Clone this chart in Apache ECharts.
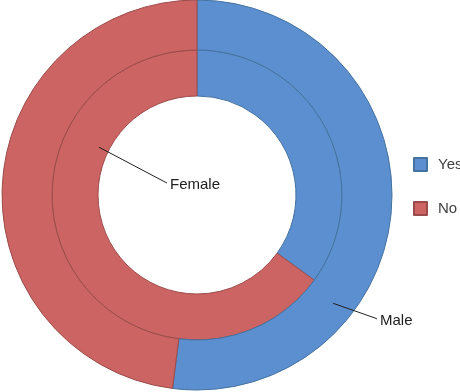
<!DOCTYPE html>
<html><head><meta charset="utf-8">
<script src="https://cdn.jsdelivr.net/npm/echarts@6/dist/echarts.min.js"></script>
<style>html,body{margin:0;padding:0;background:#fff}#c{width:460px;height:392px}</style>
</head><body><div id="c"></div>
<script>
const categories = ['Yes', 'No'];
const femaleValues = [35, 65];
const maleValues = [52, 48];
const seriesNames = ['Female', 'Male'];
const colors = ['#5B8FD0', '#CB6462'];
const borders = ['#45729f', '#9b4c4a'];

const cx = 197, cy = 195;
function pt(angleDeg, r) {
  const a = angleDeg * Math.PI / 180;
  return [cx + r * Math.sin(a), cy - r * Math.cos(a)];
}
function mkData(vals) {
  return vals.map((v, i) => ({
    name: categories[i], value: v,
    itemStyle: { color: colors[i], borderColor: borders[i], borderWidth: 1 }
  }));
}
function mkOverlay(vals, labelIdx) {
  return vals.map((v, i) => ({
    name: categories[i], value: v,
    itemStyle: { color: 'rgba(0,0,0,0)', borderWidth: 0 },
    label: { show: i === labelIdx },
    labelLine: { show: i === labelIdx }
  }));
}
const labelStyle = { position: 'outside', overflow: 'none', fontFamily: 'Liberation Sans', fontSize: 15, color: '#202020' };
const chart = echarts.init(document.getElementById('c'));
chart.setOption({
  animation: false,
  color: colors,
  legend: {
    orient: 'vertical', left: 413, top: 157, icon: 'rect', padding: 0,
    itemWidth: 13, itemHeight: 13, itemGap: 29,
    data: categories,
    textStyle: { fontFamily: 'Liberation Sans', fontSize: 15, color: '#404040', padding: [0, 0, 0, 6] }
  },
  series: [
    {
      name: seriesNames[0], type: 'pie', center: [cx, cy], radius: [99, 145],
      startAngle: 90, clockwise: true, silent: true, label: { show: false }, labelLine: { show: false },
      data: mkData(femaleValues)
    },
    {
      name: seriesNames[1], type: 'pie', center: [cx, cy], radius: [145, 195],
      startAngle: 90, clockwise: true, silent: true, label: { show: false }, labelLine: { show: false },
      data: mkData(maleValues)
    },
    {
      name: seriesNames[0] + ' label', type: 'pie', center: [cx, cy], radius: [99, 145], z: 5,
      startAngle: 90, clockwise: true, silent: true, legendHoverLink: false,
      data: mkOverlay(femaleValues, 1),
      label: Object.assign({ formatter: seriesNames[0] }, labelStyle),
      labelLine: { lineStyle: { color: '#202020', width: 1 } },
      labelLayout: function () {
        const s = pt(296, 109);
        return { x: 170, y: 185, align: 'left', verticalAlign: 'middle',
          labelLinePoints: [s, [165, 182], [167, 183]] };
      }
    },
    {
      name: seriesNames[1] + ' label', type: 'pie', center: [cx, cy], radius: [145, 195], z: 5,
      startAngle: 90, clockwise: true, silent: true, legendHoverLink: false,
      data: mkOverlay(maleValues, 0),
      label: Object.assign({ formatter: seriesNames[1] }, labelStyle),
      labelLine: { lineStyle: { color: '#202020', width: 1 } },
      labelLayout: function () {
        const s = pt(128.5, 174);
        return { x: 380, y: 321, align: 'left', verticalAlign: 'middle',
          labelLinePoints: [s, [375, 318], [377, 319]] };
      }
    }
  ]
});
</script></body></html>
